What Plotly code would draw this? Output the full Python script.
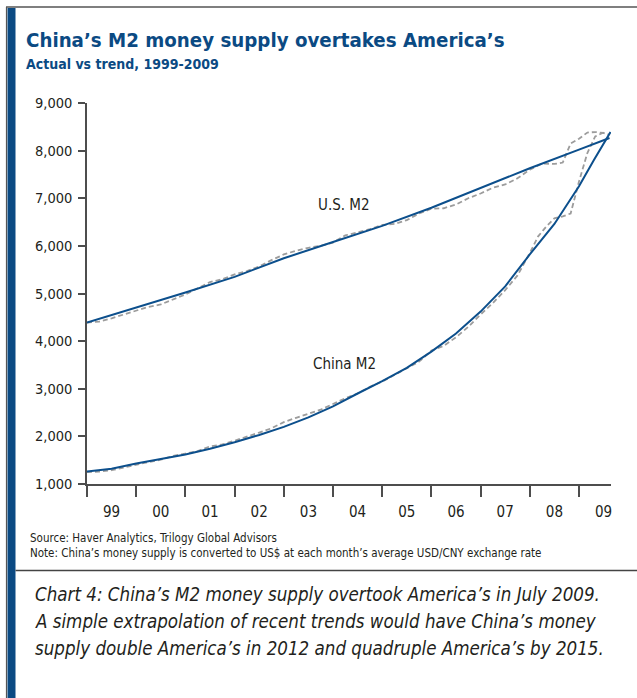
import plotly.graph_objects as go

# ---------------- data ----------------
us_trend_x = [1999.0, 2000.0, 2001.0, 2002.0, 2003.0, 2004.0, 2005.0, 2006.0,
              2007.0, 2008.0, 2009.0, 2009.62]
us_trend = [4390, 4700, 5020, 5350, 5740, 6080, 6420, 6800, 7210, 7630, 8020, 8265]

us_act_x = [1999.0, 1999.25, 1999.5, 1999.75, 2000.0, 2000.25, 2000.5, 2000.75,
            2001.0, 2001.25, 2001.5, 2001.75, 2002.0, 2002.25, 2002.5, 2002.75,
            2003.0, 2003.25, 2003.5, 2003.75, 2004.0, 2004.25, 2004.5, 2004.75,
            2005.0, 2005.25, 2005.5, 2005.75, 2006.0, 2006.25, 2006.5, 2006.75,
            2007.0, 2007.25, 2007.5, 2007.75, 2008.0, 2008.25, 2008.5, 2008.67,
            2008.83, 2009.0, 2009.17, 2009.33, 2009.5, 2009.6]
us_act = [4390, 4410, 4480, 4560, 4650, 4720, 4770, 4870,
          4980, 5110, 5240, 5300, 5400, 5470, 5570, 5700,
          5820, 5900, 5960, 6000, 6070, 6220, 6290, 6350,
          6440, 6460, 6540, 6680, 6780, 6790, 6870, 7000,
          7100, 7220, 7290, 7420, 7600, 7730, 7720, 7750,
          8150, 8250, 8380, 8390, 8370, 8340]

cn_trend_x = [1999.0, 1999.5, 2000.0, 2000.5, 2001.0, 2001.5, 2002.0, 2002.5,
              2003.0, 2003.5, 2004.0, 2004.5, 2005.0, 2005.5, 2006.0, 2006.5,
              2007.0, 2007.5, 2008.0, 2008.5, 2009.0, 2009.3, 2009.64]
cn_trend = [1260, 1320, 1430, 1520, 1620, 1740, 1875, 2030,
            2200, 2400, 2630, 2900, 3160, 3440, 3780, 4160,
            4620, 5150, 5820, 6460, 7250, 7800, 8390]

cn_act_x = [1999.0, 1999.25, 1999.5, 1999.75, 2000.0, 2000.25, 2000.5, 2000.75,
            2001.0, 2001.25, 2001.5, 2001.75, 2002.0, 2002.25, 2002.5, 2002.75,
            2003.0, 2003.25, 2003.5, 2003.75, 2004.0, 2004.25, 2004.5, 2004.75,
            2005.0, 2005.25, 2005.5, 2005.75, 2006.0, 2006.25, 2006.5, 2006.75,
            2007.0, 2007.25, 2007.5, 2007.75, 2008.0, 2008.17, 2008.33, 2008.5,
            2008.67, 2008.83, 2009.0, 2009.17, 2009.33, 2009.5]
cn_act = [1250, 1260, 1290, 1350, 1410, 1460, 1510, 1590,
          1640, 1690, 1790, 1830, 1910, 1990, 2080, 2170,
          2300, 2390, 2470, 2560, 2680, 2800, 2900, 3040,
          3150, 3290, 3420, 3570, 3800, 3900, 4080, 4300,
          4560, 4800, 5070, 5380, 5850, 6200, 6400, 6580,
          6620, 6680, 7350, 7950, 8300, 8380]

year_ticks = [1999, 2000, 2001, 2002, 2003, 2004, 2005, 2006, 2007, 2008, 2009]
year_labels = ["99", "00", "01", "02", "03", "04", "05", "06", "07", "08", "09"]
y_ticks = [1000, 2000, 3000, 4000, 5000, 6000, 7000, 8000, 9000]
y_labels = ["1,000", "2,000", "3,000", "4,000", "5,000", "6,000", "7,000", "8,000", "9,000"]

# ---------------- styling ----------------
FONT = "Liberation Sans Narrow, Arial Narrow, DejaVu Sans Condensed, Roboto, sans-serif"
BLUE = "#0b4a83"
LINE_BLUE = "#0c4f8c"
DASH_GRAY = "#9c9c9c"
TXT = "#231f20"
AX = "#4d4d4d"

WIDTH, HEIGHT = 637, 698
L, R, T, B = 87, 26, 103, 214
PW = WIDTH - L - R
PH = HEIGHT - T - B
X0 = 1999.0
XPX = 49.2  # pixels per year
x_end = X0 + PW / XPX


def pxx(p):
    return (p - L) / PW


def pxy(p):
    return (HEIGHT - B - p) / PH


fig = go.Figure()
fig.add_trace(go.Scatter(x=us_act_x, y=us_act, mode="lines",
                         line=dict(color=DASH_GRAY, width=1.8, dash="5px,3px"),
                         hoverinfo="skip", showlegend=False))
fig.add_trace(go.Scatter(x=cn_act_x, y=cn_act, mode="lines",
                         line=dict(color=DASH_GRAY, width=1.8, dash="5px,3px"),
                         hoverinfo="skip", showlegend=False))
fig.add_trace(go.Scatter(x=us_trend_x, y=us_trend, mode="lines",
                         line=dict(color=LINE_BLUE, width=2),
                         hoverinfo="skip", showlegend=False))
fig.add_trace(go.Scatter(x=cn_trend_x, y=cn_trend, mode="lines",
                         line=dict(color=LINE_BLUE, width=2),
                         hoverinfo="skip", showlegend=False))

mid_years = [y + 0.5 for y in year_ticks]

fig.update_layout(
    width=WIDTH, height=HEIGHT,
    margin=dict(l=L, r=R, t=T, b=B, pad=0),
    paper_bgcolor="white", plot_bgcolor="white",
    font=dict(family=FONT, color=TXT),
    showlegend=False,
    xaxis=dict(
        range=[X0, x_end], showgrid=False, zeroline=False,
        showline=True, linecolor=AX, linewidth=1.5,
        tickmode="array", tickvals=mid_years, ticktext=year_labels,
        ticks="outside", ticklen=13, tickcolor="rgba(0,0,0,0)",
        tickfont=dict(family=FONT, size=15, color=TXT),
        minor=dict(tickmode="array", tickvals=year_ticks, ticks="outside",
                   ticklen=11, tickwidth=1.5, tickcolor=AX, showgrid=False),
        fixedrange=True,
    ),
    yaxis=dict(
        range=[1000, 9000], showgrid=False, zeroline=False,
        showline=True, linecolor=AX, linewidth=1.5,
        tickmode="array", tickvals=y_ticks, ticktext=y_labels,
        ticks="outside", ticklen=7, tickwidth=1.5, tickcolor=AX,
        ticklabelstandoff=3,
        tickfont=dict(family=FONT, size=14.5, color=TXT),
        fixedrange=True,
    ),
)

annotations = [
    dict(text="<b>China’s M2 money supply overtakes America’s</b>",
         x=pxx(24), y=pxy(40), font=dict(size=20.3, color=BLUE, family=FONT)),
    dict(text="<b>Actual vs trend, 1999-2009</b>",
         x=pxx(24), y=pxy(64), font=dict(size=14, color=BLUE, family=FONT)),
    dict(text="Source: Haver Analytics, Trilogy Global Advisors",
         x=pxx(28), y=pxy(538), font=dict(size=11.5, color=TXT, family=FONT)),
    dict(text="Note: China’s money supply is converted to US$ at each month’s average USD/CNY exchange rate",
         x=pxx(28), y=pxy(553), font=dict(size=11.5, color=TXT, family=FONT)),
    dict(text="<i>Chart 4: China’s M2 money supply overtook America’s in July 2009.</i>",
         x=pxx(33), y=pxy(594), font=dict(size=18.6, color=TXT, family=FONT)),
    dict(text="<i>A simple extrapolation of recent trends would have China’s money</i>",
         x=pxx(33), y=pxy(621), font=dict(size=18.6, color=TXT, family=FONT)),
    dict(text="<i>supply double America’s in 2012 and quadruple America’s by 2015.</i>",
         x=pxx(33), y=pxy(648), font=dict(size=18.6, color=TXT, family=FONT)),
]
for a in annotations:
    a.update(xref="paper", yref="paper", xanchor="left", yanchor="middle",
             showarrow=False)

annotations += [
    dict(text="U.S. M2", x=2004.23, y=6850, xref="x", yref="y",
         showarrow=False, font=dict(size=15, color=TXT, family=FONT)),
    dict(text="China M2", x=2004.23, y=3520, xref="x", yref="y",
         showarrow=False, font=dict(size=15, color=TXT, family=FONT)),
]
fig.update_layout(annotations=annotations)

shapes = [
    # top border
    dict(type="line", x0=pxx(6), x1=pxx(640), y0=pxy(7), y1=pxy(7),
         line=dict(color="#555555", width=1.5)),
    # left thin border
    dict(type="line", x0=pxx(6.5), x1=pxx(6.5), y0=pxy(7), y1=pxy(700),
         line=dict(color="#555555", width=1.2)),
    # blue bar
    dict(type="rect", x0=pxx(7.5), x1=pxx(15.5), y0=pxy(8), y1=pxy(700),
         fillcolor=BLUE, line=dict(width=0)),
    # separator above caption
    dict(type="line", x0=pxx(15.5), x1=pxx(640), y0=pxy(570.5), y1=pxy(570.5),
         line=dict(color="#444444", width=1.5)),
]
for s in shapes:
    s.update(xref="paper", yref="paper", layer="above")
fig.update_layout(shapes=shapes)

fig.write_html("out.html")
